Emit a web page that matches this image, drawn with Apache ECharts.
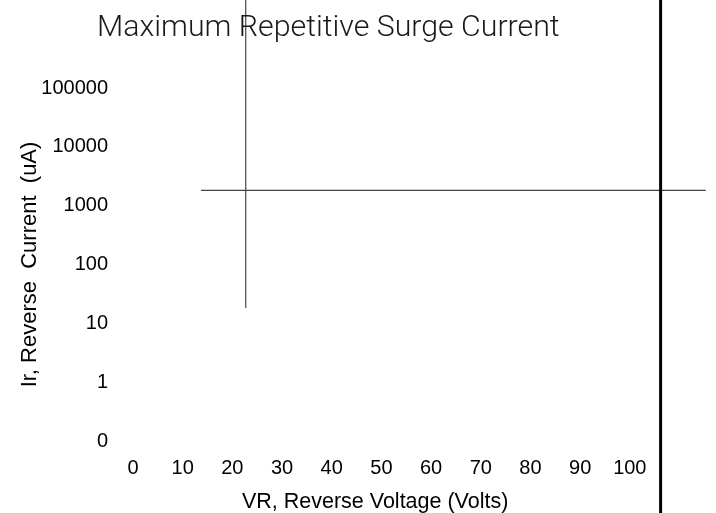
<!DOCTYPE html>
<html>
<head>
<meta charset="utf-8">
<script src="https://cdn.jsdelivr.net/npm/echarts@6/dist/echarts.min.js"></script>
<style>html,body{margin:0;padding:0;background:#fff;}#c{width:716px;height:513px;}</style>
</head>
<body>
<div id="c"></div>
<script>
const xTickMax = 100;
const yTickLabels = ['0', '1', '10', '100', '1000', '10000', '100000'];
const vLineX = [22.7, 22.7];
const vLineY = [7.5, 2.26];
const hLineX = [13.7, 115.3];
const hLineY = [4.26, 4.26];
const edgeLineX = [106.2, 106.2];
const edgeLineY = [7.5, -1.25];

function pairs(xs, ys) { return xs.map((x, i) => [x, ys[i]]); }

const chart = echarts.init(document.getElementById('c'), null, {renderer: 'canvas'});
const lbl = {color: '#000', fontFamily: 'Liberation Sans, Arial, sans-serif', fontSize: 20};
chart.setOption({
  animation: false,
  title: {
    text: 'Maximum Repetitive Surge Current',
    left: 92, top: 8,
    textStyle: {fontFamily: 'Roboto', fontWeight: 300, fontSize: 30.3, color: '#1a1a1a'}
  },
  grid: {left: 133, right: 6.7, top: 88, bottom: 72, outerBoundsMode: 'none', containLabel: false},
  xAxis: {
    type: 'value', min: 0, max: 116, interval: 10,
    axisLine: {show: false}, axisTick: {show: false}, splitLine: {show: false},
    axisLabel: Object.assign({margin: 17, showMaxLabel: false,
      formatter: v => (v <= xTickMax ? String(v) : '')}, lbl),
    name: 'VR, Reverse Voltage (Volts)', nameLocation: 'middle', nameGap: 50,
    nameMoveOverlap: false,
    nameTextStyle: Object.assign({}, lbl, {fontSize: 21.5, padding: [0, 92, 0, 0]})
  },
  yAxis: {
    type: 'value', min: 0, max: 6, interval: 1,
    axisLine: {show: false}, axisTick: {show: false}, splitLine: {show: false},
    axisLabel: Object.assign({margin: 25, formatter: v => yTickLabels[v]}, lbl),
    name: 'Ir, Reverse  Current  (uA)', nameLocation: 'middle', nameGap: 92,
    nameMoveOverlap: false,
    nameTextStyle: Object.assign({}, lbl, {fontSize: 22})
  },
  series: [
    {type: 'line', data: pairs(vLineX, vLineY), clip: false, symbol: 'none',
     lineStyle: {color: '#222', width: 1}},
    {type: 'line', data: pairs(hLineX, hLineY), clip: false, symbol: 'none',
     lineStyle: {color: '#444', width: 1.2}},
    {type: 'line', data: pairs(edgeLineX, edgeLineY), clip: false, symbol: 'none',
     lineStyle: {color: '#000', width: 3}}
  ]
});
</script>
</body>
</html>
